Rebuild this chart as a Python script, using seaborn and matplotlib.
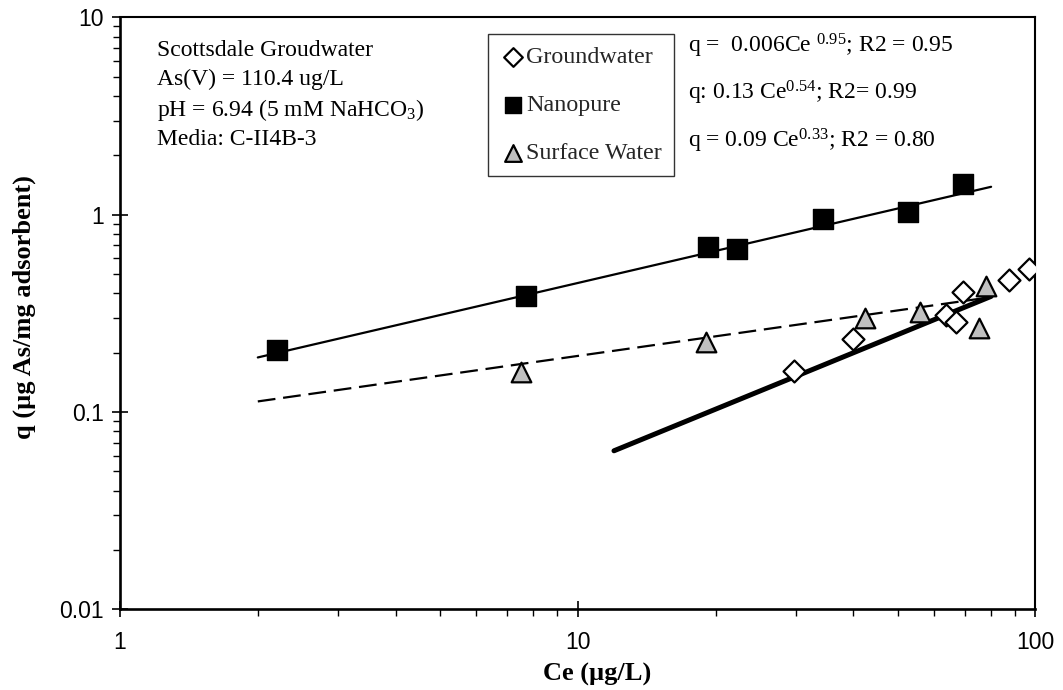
import numpy as np
import pandas as pd
import matplotlib
matplotlib.use("Agg")
import matplotlib.pyplot as plt
from matplotlib.ticker import FixedLocator, FixedFormatter, LogLocator, NullFormatter
import seaborn as sns

# Isotherm data: equilibrium concentration Ce (ug/L) and loading q (ug As/mg adsorbent)
gw_ce = [29.7, 39.9, 63.7, 67.1, 69.4, 87.6, 96.8]
gw_q = [0.162, 0.234, 0.310, 0.287, 0.408, 0.467, 0.529]

np_ce = [2.20, 7.70, 19.3, 22.3, 34.4, 52.7, 69.5]
np_q = [0.206, 0.389, 0.687, 0.668, 0.952, 1.033, 1.43]

sw_ce = [7.52, 19.1, 42.4, 56.0, 75.3, 78.0]
sw_q = [0.160, 0.227, 0.300, 0.323, 0.267, 0.436]

# Freundlich fits q = K * Ce^n and the Ce range each fit line covers
gw_fit = (0.006, 0.95, [12.0, 80.0])
np_fit = (0.13, 0.54, [2.0, 80.0])
sw_fit = (0.09, 0.33, [2.0, 80.0])

series_labels = ["Groundwater", "Nanopure", "Surface Water"]
x_ticks = [1, 10, 100]
x_ticklabels = ["1", "10", "100"]
y_ticks = [0.01, 0.1, 1, 10]
y_ticklabels = ["0.01", "0.1", "1", "10"]

sns.set_theme(style="white")
plt.rcParams["font.family"] = ["Liberation Serif", "DejaVu Serif"]
plt.rcParams["mathtext.fontset"] = "custom"
plt.rcParams["mathtext.rm"] = "Liberation Serif"
plt.rcParams["mathtext.it"] = "Liberation Serif:italic"
plt.rcParams["mathtext.default"] = "regular"

fig = plt.figure(figsize=(10.63, 6.90), dpi=100)
ax = fig.add_axes([0.1129, 0.117, 0.8612, 0.8577])


def fit_frame(fit):
    k, n, ce = fit
    ce = np.array(ce)
    return pd.DataFrame({"Ce": ce, "q": k * ce ** n})


# Fit lines
sns.lineplot(data=fit_frame(np_fit), x="Ce", y="q", ax=ax, color="black",
             linewidth=1.6, zorder=2)
sns.lineplot(data=fit_frame(sw_fit), x="Ce", y="q", ax=ax, color="black",
             linewidth=1.6, zorder=2).lines[-1].set_dashes((8, 3.5))
sns.lineplot(data=fit_frame(gw_fit), x="Ce", y="q", ax=ax, color="black",
             linewidth=3.6, zorder=2)

# Data points
sns.scatterplot(x=gw_ce, y=gw_q, ax=ax, marker="D", s=125, color="white",
                edgecolor="black", linewidth=1.6, label=series_labels[0], zorder=3)
sns.scatterplot(x=np_ce, y=np_q, ax=ax, marker="s", s=190, color="black",
                edgecolor="black", linewidth=1.0, label=series_labels[1], zorder=3)
sns.scatterplot(x=sw_ce, y=sw_q, ax=ax, marker="^", s=200, color="#c0c0c0",
                edgecolor="black", linewidth=1.6, label=series_labels[2], zorder=3)

ax.set_xscale("log")
ax.set_yscale("log")
ax.set_xlim(1, 100)
ax.set_ylim(0.01, 10)

ax.xaxis.set_major_locator(FixedLocator(x_ticks))
ax.xaxis.set_major_formatter(FixedFormatter(x_ticklabels))
ax.yaxis.set_major_locator(FixedLocator(y_ticks))
ax.yaxis.set_major_formatter(FixedFormatter(y_ticklabels))
ax.xaxis.set_minor_locator(LogLocator(base=10, subs=np.arange(2, 10)))
ax.yaxis.set_minor_locator(LogLocator(base=10, subs=np.arange(2, 10)))
ax.xaxis.set_minor_formatter(NullFormatter())
ax.yaxis.set_minor_formatter(NullFormatter())

for lab in ax.get_xticklabels() + ax.get_yticklabels():
    lab.set_fontfamily(["Liberation Sans", "DejaVu Sans"])
    lab.set_fontsize(16.5)
    lab.set_color("black")

ax.tick_params(which="major", direction="inout", length=11, width=1.2,
               color="black", bottom=True, left=True)
ax.tick_params(axis="x", which="major", pad=10)
ax.tick_params(axis="y", which="major", pad=6)
ax.tick_params(which="minor", direction="out", length=5, width=1.0,
               color="black", bottom=True, left=True)

for side in ["top", "right"]:
    ax.spines[side].set_linewidth(1.5)
    ax.spines[side].set_color("black")
for side in ["left", "bottom"]:
    ax.spines[side].set_linewidth(1.9)
    ax.spines[side].set_color("black")

ax.set_xlabel("Ce (\u00b5g/L)", fontsize=19, fontweight="bold", color="black")
ax.set_ylabel("q (\u00b5g As/mg adsorbent)", fontsize=19, fontweight="bold",
              color="black")
ax.xaxis.set_label_coords(0.521, -0.091)
ax.yaxis.set_label_coords(-0.092, 0.51)

leg = ax.legend(loc="upper left", bbox_to_anchor=(0.402, 0.972), borderaxespad=0,
                frameon=True, fancybox=False, fontsize=17.3, handletextpad=0.0,
                labelspacing=1.1, handlelength=1.1, borderpad=0.5,
                markerscale=0.85)
leg.get_frame().set_edgecolor("black")
leg.get_frame().set_linewidth(1.0)

info = ["Scottsdale Groudwater",
        "As(V) = 110.4 ug/L",
        "pH = 6.94 (5 mM NaHCO$_3$)",
        "Media: C-II4B-3"]
for i, line in enumerate(info):
    ax.text(0.04, 0.945 - i * 0.0505, line, transform=ax.transAxes, fontsize=17,
            va="center", ha="left", color="black")

equations = ["q =  0.006Ce $^{0.95}$; R2 = 0.95",
             "q: 0.13 Ce$^{0.54}$; R2= 0.99",
             "q = 0.09 Ce$^{0.33}$; R2 = 0.80"]
for i, line in enumerate(equations):
    ax.text(0.62, 0.952 - i * 0.08, line, transform=ax.transAxes, fontsize=17,
            va="center", ha="left", color="black")

fig.savefig("out.png", dpi=100)
